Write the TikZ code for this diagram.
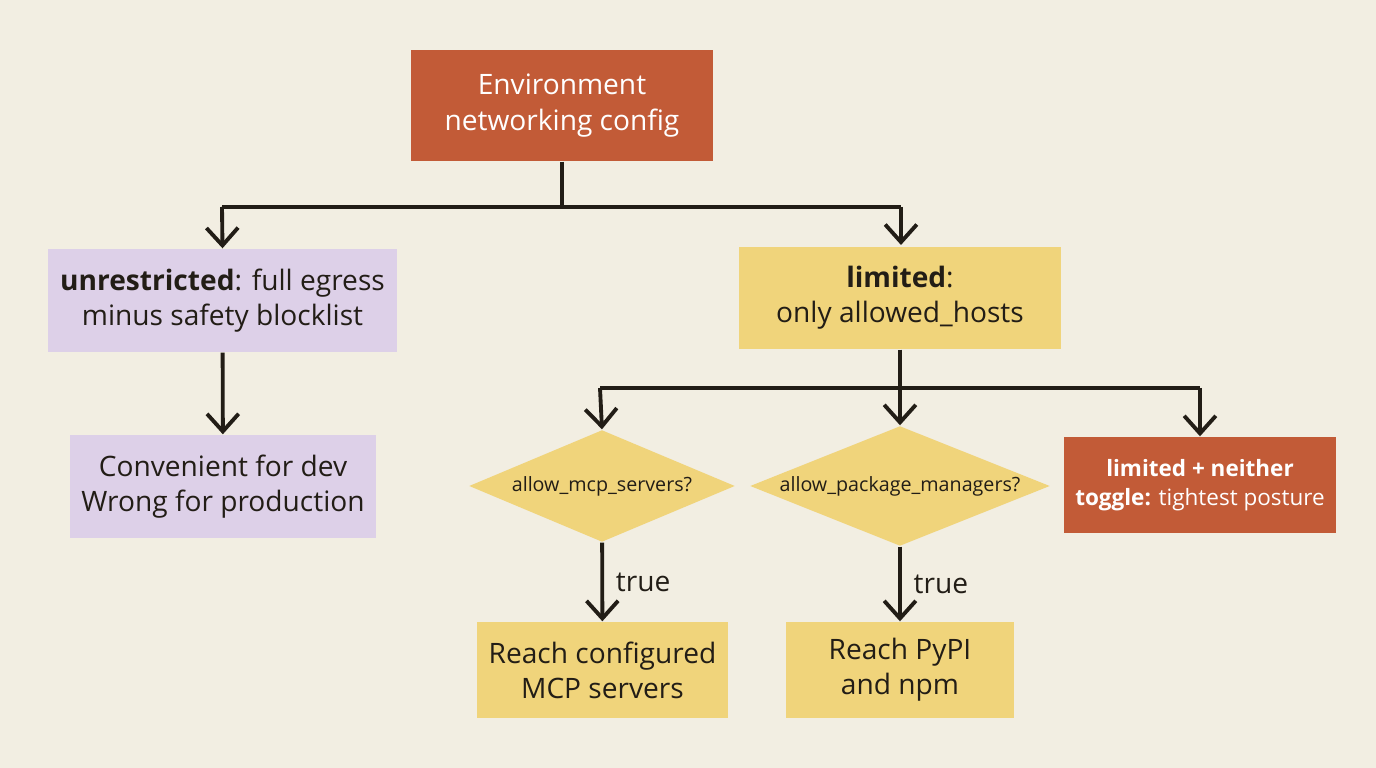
\documentclass[tikz,border=0pt]{standalone}
\usepackage{fontspec}
\setmainfont{Open Sans}
\usetikzlibrary{arrows.meta,shapes.geometric}
\definecolor{bg}{HTML}{F2EEE2}
\definecolor{rust}{HTML}{C25B37}
\definecolor{lav}{HTML}{DDD0E8}
\definecolor{sand}{HTML}{F0D47B}
\definecolor{ink}{HTML}{221D16}
\begin{document}
\begin{tikzpicture}[
        box/.style={draw=none, minimum height=1.02cm, align=center, text=ink, font=\fontsize{8}{10}\selectfont},
        hot/.style={box, fill=rust, text=white},
        soft/.style={box, fill=lav},
        warm/.style={box, fill=sand},
        ask/.style={diamond, aspect=2.4, fill=sand, inner sep=0pt, text=ink, font=\fontsize{5.6}{7}\selectfont},
        link/.style={draw=ink, line width=1.1pt, -{Straight Barb[length=5pt,width=9pt,line width=1.1pt]}},
        line/.style={draw=ink, line width=1.1pt},
    ]
    \fill[bg] (0,0) rectangle (13.76,7.68);
    \node[hot, minimum width=3.02cm, minimum height=1.11cm](env) at (5.62,6.625){Environment\\networking config};
    \node[soft, minimum width=3.31cm, minimum height=1.03cm](unres) at (2.225,4.675){\textbf{unrestricted}: full egress\\minus safety blocklist};
    \node[soft, minimum width=2.94cm, minimum height=1.03cm](conv) at (2.23,2.815){Convenient for dev\\Wrong for production};
    \node[warm, minimum width=3.22cm](lim) at (9.0,4.7){\textbf{limited}:\\only allowed\_hosts};
    \node[ask, minimum width=2.66cm, minimum height=1.12cm](mcp) at (6.02,2.82){allow\_mcp\_servers?};
    \node[ask, minimum width=3.0cm, minimum height=1.12cm](pkg) at (9.0,2.82){allow\_package\_managers?};
    \node[hot, minimum width=2.6cm, minimum height=0.96cm, font=\fontsize{6.4}{8.4}\selectfont](none) at (12.0,2.83){\textbf{limited + neither}\\\textbf{toggle:} tightest posture};
    \node[warm, minimum width=2.39cm, minimum height=0.96cm](rmcp) at (6.025,0.98){Reach configured\\MCP servers};
    \node[warm, minimum width=2.28cm, minimum height=0.96cm](rpkg) at (9.0,0.98){Reach PyPI\\and npm};
    % first split
    \coordinate (j1) at (5.62,5.61);
    \draw[line] (env.south) -- (j1);
    \draw[line] (2.22,5.61) -- (9.01,5.61);
    \draw[link] (2.22,5.61) -- (unres.north);
    \draw[link] (9.01,5.61) -- (9.01,5.23);
    \draw[link] (unres) -- (conv);
    % second split
    \coordinate (j2) at (9.0,3.8);
    \draw[line] (lim.south) -- (j2);
    \draw[line] (6.0,3.8) -- (12.0,3.8);
    \draw[link] (6.0,3.8) -- (mcp.north);
    \draw[link] (j2) -- (pkg.north);
    \draw[link] (12.0,3.8) -- (none.north);
    \draw[link] (mcp) -- node[right, text=ink, font=\fontsize{8}{10}\selectfont]{true} (rmcp);
    \draw[link] (pkg) -- node[right, text=ink, font=\fontsize{8}{10}\selectfont]{true} (rpkg);
\end{tikzpicture}
\end{document}
